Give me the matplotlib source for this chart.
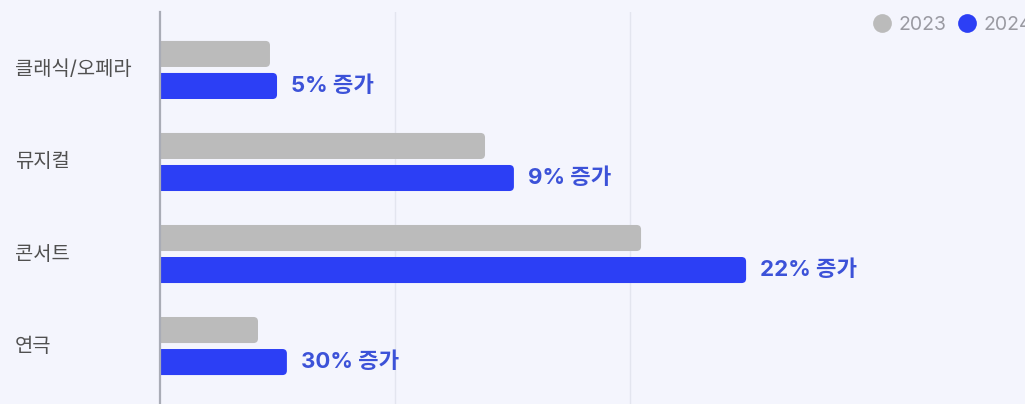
import matplotlib
matplotlib.use("Agg")
import matplotlib.pyplot as plt
from matplotlib.patches import FancyBboxPatch
from matplotlib.lines import Line2D

categories = ["클래식/오페라", "뮤지컬", "콘서트", "연극"]
values_2023 = [468, 1383, 2047, 417]
values_2024 = [498, 1506, 2494, 540]
growth_pct = [5, 9, 22, 30]
series_labels = ["2023", "2024"]

BG = "#f4f5fd"
GRAY = "#bbbbbb"
BLUE = "#2c3ff5"
LABEL_BLUE = "#3c52d8"
FAM = ["Inter", "Noto Sans CJK KR", "DejaVu Sans"]

plt.rcParams["font.family"] = FAM

W, H = 1025, 404
fig = plt.figure(figsize=(W / 100, H / 100), dpi=100, facecolor=BG)
ax_left = 160 / W
ax_top = 1 - 12 / H
ax = fig.add_axes([ax_left, 0.0, 1 - ax_left, ax_top - 0.0])
ax.set_facecolor(BG)

xmax = (W - 160) / 235 * 1000
ax.set_xlim(0, xmax)
ax.set_ylim(3.63, -0.63)

bar_h = 0.283
off = 0.174
ypos = list(range(len(categories)))

bars23 = ax.barh([y - off for y in ypos], values_2023, height=bar_h, color=GRAY)
bars24 = ax.barh([y + off for y in ypos], values_2024, height=bar_h, color=BLUE)

# convert to rounded bars
px_x = xmax / (W - 160)
px_y = 4.26 / (ax_top * H)
r = 4.5
for cont in (bars23, bars24):
    for p in cont.patches:
        x0, y0 = p.get_x(), p.get_y()
        w, h = p.get_width(), p.get_height()
        p.set_visible(False)
        fb = FancyBboxPatch((x0 - 10 * px_x, y0), w + 10 * px_x, h,
                            boxstyle=f"round,pad=0,rounding_size={r * px_x}",
                            mutation_aspect=px_y / px_x,
                            facecolor=p.get_facecolor(), edgecolor="none",
                            clip_on=True, zorder=2)
        ax.add_patch(fb)

for y, v, g in zip(ypos, values_2024, growth_pct):
    ax.text(v + 14 * px_x, y + off, f"{g}% 증가", va="center", ha="left",
            fontsize=16, fontweight="bold", color=LABEL_BLUE, zorder=3,
            family=["Inter", "Noto Sans CJK KR"])

ax.set_xticks([1000, 2000])
ax.set_xticklabels([])
ax.tick_params(axis="both", length=0)
ax.set_yticks([])
ax.grid(axis="x", color="#e3e5ef", linewidth=1)
ax.set_axisbelow(True)
for s in ["top", "right", "bottom"]:
    ax.spines[s].set_visible(False)
ax.spines["left"].set_color("#a9acb6")
ax.spines["left"].set_linewidth(1.6)

for y, c in zip(ypos, categories):
    fig.text(15 / W, 1 - (70 + y * 92.3) / H, c, ha="left", va="center",
             fontsize=14.3, color="#505050")

handles = [Line2D([], [], marker="o", linestyle="none", markersize=13.5,
                  markerfacecolor=col, markeredgecolor="none")
           for col in (GRAY, BLUE)]
leg = fig.legend(handles, series_labels, loc="center left",
                 bbox_to_anchor=(873 / W, 1 - 25 / H), ncol=2, frameon=False,
                 handlelength=0.9, handletextpad=0.42, columnspacing=0.6,
                 fontsize=14, borderpad=0, borderaxespad=0)
for t in leg.get_texts():
    t.set_color("#9a9aa2")

fig.savefig("out.png", dpi=100, facecolor=BG)
